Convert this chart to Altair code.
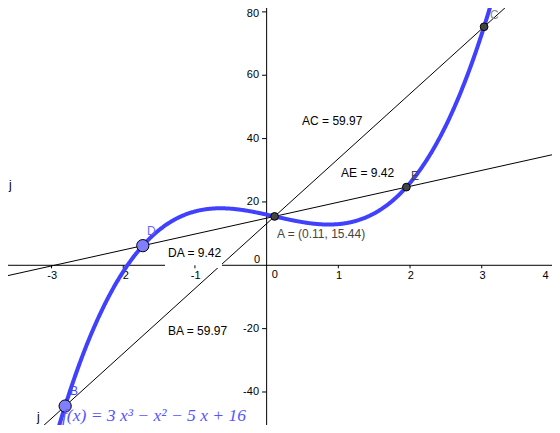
import altair as alt
import numpy as np
import pandas as pd

# ---------------- data ----------------
coefficients = [3, -1, -5, 16]            # f(x) = 3x^3 - x^2 - 5x + 16
point_names = ["A", "B", "C", "D", "E"]
point_x = [0.111, -2.810, 3.033, -1.727, 1.949]
point_y = [15.44, -44.44, 75.31, 6.20, 24.68]
x_ticks = [-3, -2, -1, 1, 2, 3, 4]
y_ticks = [-40, -20, 20, 40, 60, 80]
measure_texts = ["AC = 59.97", "AE = 9.42", "DA = 9.42", "BA = 59.97"]
coord_text = "A = (0.11, 15.44)"
line_names = ["j", "j"]
formula_text = "f(x)  =  3 x³ − x² − 5 x + 16"

# ---------------- layout ----------------
X_DOMAIN = [-3.607, 3.980]
Y_DOMAIN = [-50.42, 81.23]
W, H = 544, 417
xs = alt.Scale(domain=X_DOMAIN, nice=False, zero=False)
ys = alt.Scale(domain=Y_DOMAIN, nice=False, zero=False)


def X(f="x"):
    return alt.X(f"{f}:Q", scale=xs, axis=None)


def Y(f="y"):
    return alt.Y(f"{f}:Q", scale=ys, axis=None)


P = dict(zip(point_names, zip(point_x, point_y)))

# curve
cx = np.arange(-3.2, 3.35, 0.01)
curve_df = pd.DataFrame({"x": cx, "y": np.polyval(coefficients, cx)})


def full_line(name, p, q):
    (x1, y1), (x2, y2) = P[p], P[q]
    m = (y2 - y1) / (x2 - x1)
    return [{"line": name, "x": xe, "y": y1 + m * (xe - x1)} for xe in X_DOMAIN]


lines_df = pd.DataFrame(full_line("j", "D", "E") + full_line("i", "B", "C"))

# axes
axis_h = alt.Chart(pd.DataFrame({"x": [X_DOMAIN[0]], "x2": [X_DOMAIN[1]], "y": [0]})).mark_rule(
    color="black", strokeWidth=1).encode(x=X(), x2="x2:Q", y=Y())
axis_v = alt.Chart(pd.DataFrame({"x": [0], "y": [Y_DOMAIN[0]], "y2": [Y_DOMAIN[1]]})).mark_rule(
    color="black", strokeWidth=1).encode(x=X(), y=Y(), y2="y2:Q")

# label anchor positions (the outermost labels are nudged inward to stay visible)
x_label_pos = [-2.99, -1.99, -0.99, 1.01, 2.01, 3.01, 3.89]
y_label_pos = [-40, -20, 20, 40, 60, 79.2]

xt_df = pd.DataFrame({"x": x_ticks, "y": [0] * len(x_ticks), "y2": [-0.95] * len(x_ticks),
                      "lx": x_label_pos, "ly": [-4.17] * len(x_ticks),
                      "label": [str(t) for t in x_ticks]})
yt_df = pd.DataFrame({"y": y_ticks, "x": [-0.064] * len(y_ticks), "x2": [0] * len(y_ticks),
                      "lx": [-0.106] * len(y_ticks), "ly": y_label_pos,
                      "label": [str(t) for t in y_ticks]})

x_tick_marks = alt.Chart(xt_df).mark_rule(color="black").encode(x=X(), y=Y(), y2="y2:Q")
y_tick_marks = alt.Chart(yt_df).mark_rule(color="black").encode(x=X(), x2="x2:Q", y=Y())
x_tick_labels = alt.Chart(xt_df).mark_text(
    font="Liberation Sans", fontSize=11, align="center", baseline="alphabetic", color="black"
).encode(x=X("lx"), y=Y("ly"), text="label:N")
y_tick_labels = alt.Chart(yt_df).mark_text(
    font="Liberation Sans", fontSize=11, align="right", baseline="middle", color="black"
).encode(x=X("lx"), y=Y("ly"), text="label:N")
zero_df = pd.DataFrame({"x": [0.113, -0.092], "y": [-4.1, 0.73], "label": ["0", "0"]})
zero_x = alt.Chart(zero_df.iloc[[0]]).mark_text(
    font="Liberation Sans", fontSize=11, align="center", baseline="alphabetic", color="black"
).encode(x=X(), y=Y(), text="label:N")
zero_y = alt.Chart(zero_df.iloc[[1]]).mark_text(
    font="Liberation Sans", fontSize=11, align="right", baseline="alphabetic", color="black"
).encode(x=X(), y=Y(), text="label:N")

# lines
lines = alt.Chart(lines_df).mark_line(color="black", strokeWidth=1, clip=True).encode(
    x=X(), y=Y(), detail="line:N")

# white box behind DA label
box = alt.Chart(pd.DataFrame({"x": [-1.417], "x2": [-0.622], "y": [-0.85], "y2": [7.36]})).mark_rect(
    color="white").encode(x=X(), x2="x2:Q", y=Y(), y2="y2:Q")

# curve
curve = alt.Chart(curve_df).mark_line(color="#4040ff", strokeWidth=4, clip=True).encode(
    x=X(), y=Y(), order="x:Q")

# points
pts_df = pd.DataFrame({"name": point_names, "x": point_x, "y": point_y})
small_pts = alt.Chart(pts_df[pts_df["name"].isin(["A", "C", "E"])]).mark_point(
    shape="circle", size=60, filled=True, fill="#444444", stroke="black", strokeWidth=1, opacity=1
).encode(x=X(), y=Y())
big_pts = alt.Chart(pts_df[pts_df["name"].isin(["B", "D"])]).mark_point(
    shape="circle", size=150, filled=True, fill="#7f7fff", stroke="black", strokeWidth=1, opacity=1
).encode(x=X(), y=Y())

# labels
lab_df = pd.DataFrame({
    "text": measure_texts + [coord_text, "E", "C", "D", "B"] + line_names,
    "x": [0.494, 1.038, -1.375, -1.375, 0.145, 2.013, 3.116, -1.667, -2.742, -3.593, -3.202],
    "y": [44.29, 27.88, 2.62, -22.0, 8.77, 26.93, 77.76, 9.57, -40.95, 24.09, -49.1],
    "color": ["black"] * 4 + ["#444444", "#444444", "#888888", "#6666ff", "#4444ff", "black", "black"],
})
labels = alt.Chart(lab_df).mark_text(
    font="Liberation Sans", fontSize=12, align="left", baseline="alphabetic"
).encode(x=X(), y=Y(), text="text:N", color=alt.Color("color:N", scale=None))

formula = alt.Chart(pd.DataFrame({"x": [-2.854], "y": [-49.0], "t": [formula_text]})).mark_text(
    font="Liberation Serif", fontSize=17.5, fontStyle="italic", align="left", baseline="alphabetic",
    color="#5555ff"
).encode(x=X(), y=Y(), text="t:N")

chart = alt.layer(
    axis_h, axis_v, lines, box, x_tick_marks, y_tick_marks, x_tick_labels, y_tick_labels,
    zero_x, zero_y, curve, small_pts, big_pts, labels, formula
).properties(
    width=W, height=H, padding=0, background="white",
    autosize=alt.AutoSizeParams(type="none")
).configure_view(stroke=None)

chart.save("out.html", embed_options={"renderer": "svg", "actions": False})
